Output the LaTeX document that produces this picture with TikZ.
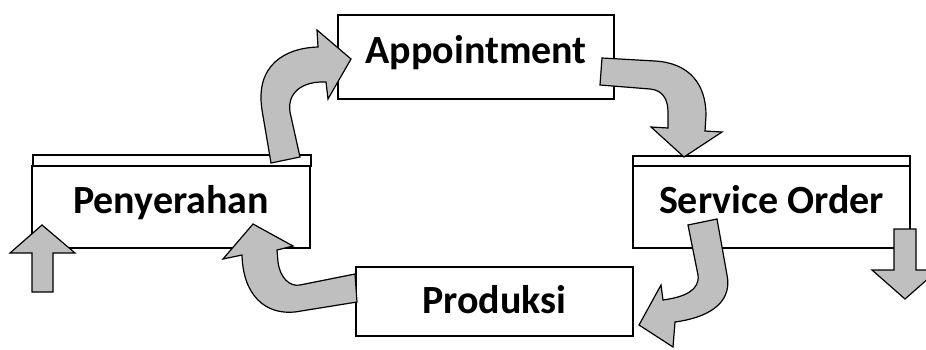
\documentclass[tikz,border=0pt]{standalone}
\usepackage{fontspec}
\setmainfont{Carlito}
\begin{document}
\begin{tikzpicture}[x=1pt,y=-1pt,
  box/.style={draw=black,line width=1.5pt,fill=white,rectangle,inner sep=0pt,text height=24pt,text depth=12pt,font=\bfseries\fontsize{40}{42}\selectfont},
  strip/.style={draw=black,line width=1.5pt,fill=white},
  blockarrow/.style={draw=black,line width=1.2pt,fill=black!25,line join=miter}]
\useasboundingbox (0,0) rectangle (926,349);
\clip (0,0) rectangle (926,349);
% boxes
\draw[strip] (33,155) rectangle (311,166);
\node[box,minimum width=278pt,minimum height=82pt] (pen) at (171,207) {Penyerahan};
\node[box,minimum width=276pt,minimum height=84pt] (app) at (476,57) {Appointment};
\draw[strip] (633,156) rectangle (910,166);
\node[box,minimum width=277pt,minimum height=82pt] (svc) at (771.5,207) {Service Order};
\node[box,minimum width=277pt,minimum height=69pt,text height=30pt,text depth=7pt] (prod) at (494.5,301.5) {Produksi};
% straight arrows
\draw[blockarrow] (32,292) -- (32,253) -- (10,253) -- (42,225) -- (75,253) -- (53,253) -- (53,292) -- cycle;
\draw[blockarrow] (894,229) -- (916,229) -- (916,270) -- (938,270) -- (905,299) -- (872,270) -- (894,270) -- cycle;
% curved arrows
\draw[blockarrow] (271,163) -- (262,110) .. controls (255,65) and (285,48) .. (318,47) -- (317,30) -- (351,59) -- (328,99) -- (326,82) .. controls (303,81) and (287,92) .. (290,112) -- (300,157) -- cycle;
\draw[blockarrow] (602,58) -- (655,61) .. controls (690,63) and (706,85) .. (706,115) -- (705,131) -- (722,132) -- (684,157) -- (651,127) -- (668,128) -- (668,112) .. controls (668,100) and (663,90) .. (650,89) -- (600,85) -- cycle;
\draw[blockarrow] (688,225) -- (717,219) -- (727,275) .. controls (733,305) and (705,318) .. (675,322) -- (673,347) -- (639,325) -- (661,285) -- (663,300) .. controls (685,297) and (700,290) .. (698,275) -- cycle;
\draw[blockarrow] (253,224) -- (293,246) -- (277,250) -- (278,262) .. controls (280,278) and (290,287) .. (300,285) -- (355,274) -- (357,302) -- (295,312) .. controls (265,315) and (243,295) .. (242,255) -- (223,259) -- cycle;
\end{tikzpicture}
\end{document}
